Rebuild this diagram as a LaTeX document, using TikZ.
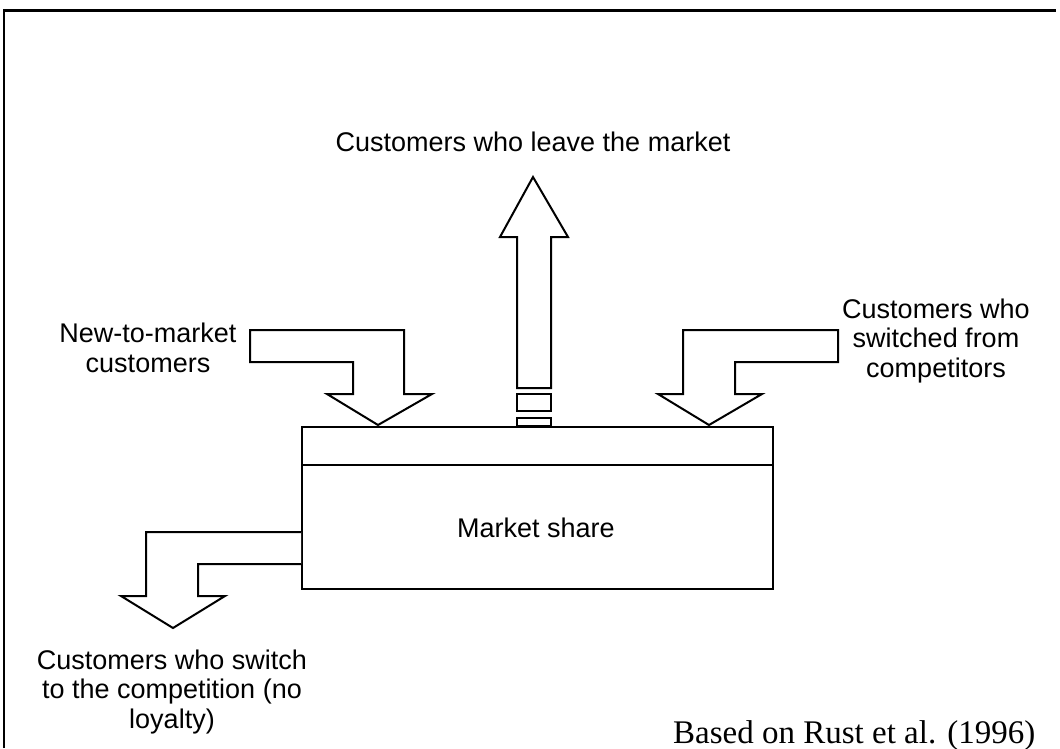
\documentclass[tikz,border=0pt]{standalone}
\usepackage{fontspec}
\setmainfont{Liberation Sans}
\newfontfamily\notefont{Liberation Serif}
\usetikzlibrary{positioning}

\tikzset{
    blockarrow/.style={draw, line width=2pt, fill=white, line join=miter},
    label/.style={align=center, font=\fontsize{27}{29.5}\selectfont, inner sep=0pt},
}

\begin{document}
\begin{tikzpicture}[x=1pt, y=-1pt]
        \useasboundingbox (0,0) rectangle (1060,748);
        % outer frame
        \draw[line width=2pt] (4,748) -- (4,10);
        \draw[line width=3pt] (3,10) -- (1056,10);

        % market share box
        \node[draw, line width=2pt, minimum width=471pt, minimum height=162pt,
              anchor=north west, inner sep=0pt] (share) at (301,426) {};
        \draw[line width=2pt] (share.west |- 0,465) -- (share.east |- 0,465);
        \node[label] (sharetext) at (536,528) {Market share};

        % arrows into and out of the box
        \draw[blockarrow] (250,330) -- (404,330) -- (404,394) -- (432,394) -- (378,425)
            -- (327,394) -- (353,394) -- (353,362) -- (250,362) -- cycle;
        \draw[blockarrow] (838,330) -- (683,330) -- (683,394) -- (658,394) -- (709,425)
            -- (762,394) -- (735,394) -- (735,362) -- (838,362) -- cycle;
        \draw[blockarrow] (517,388) -- (517,237) -- (500,237) -- (533,177) -- (568,237)
            -- (551,237) -- (551,388) -- cycle;
        \draw[blockarrow] (517,394) rectangle (551,411);
        \draw[blockarrow] (517,418) rectangle (551,426);
        \draw[blockarrow] (share.west |- 0,532) -- (146,532) -- (146,596) -- (121,596) -- (173,628)
            -- (225,596) -- (198,596) -- (198,564) -- (share.west |- 0,564);

        % labels
        \node[label] (leave) at (533,142) {Customers who leave the market};
        \node[label] (newcust) at (148,348) {New-to-market\\customers};
        \node[label] (switched) at (936,341) {Customers who\\switched from\\competitors};
        \node[label] (switch) at (172,692) {Customers who switch\\to the competition (no\\loyalty)};
        \node[inner sep=0pt, anchor=base west, font=\notefont\fontsize{33}{36}\selectfont]
            (source) at (673,743) {Based on Rust et al. (1996)};
    \end{tikzpicture}
\end{document}
